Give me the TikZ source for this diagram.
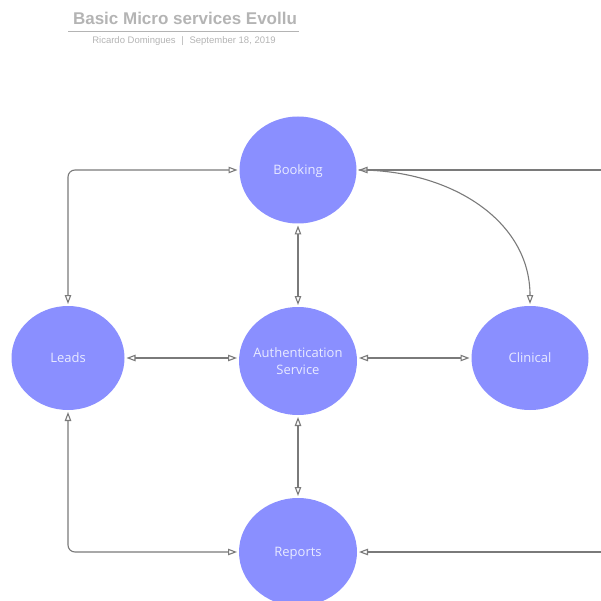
\documentclass[tikz,border=0pt]{standalone}
\usepackage{fontspec}
\setmainfont{Open Sans}
\newfontfamily\titlefont{Liberation Sans}
\usetikzlibrary{arrows.meta,shapes.geometric}
\definecolor{svcfill}{HTML}{8A8FFF}
\definecolor{svctext}{HTML}{E8EAFF}
\definecolor{linkgray}{HTML}{7A7A7A}
\definecolor{headgray}{HTML}{B4B4B4}
\tikzset{
  svc/.style={ellipse, fill=svcfill, draw=none, inner sep=0pt, outer sep=2pt,
    minimum width=117pt, minimum height=107pt, text=svctext,
    font=\fontsize{13}{17}\selectfont, align=center, text depth=0pt},
  link/.style={draw=linkgray, line width=1.1pt,
    arrows={Triangle[open,length=9pt,width=6.5pt,fill=white]-Triangle[open,length=9pt,width=6.5pt,fill=white]}},
  onehead/.style={draw=linkgray, line width=1.1pt,
    arrows={-Triangle[open,length=9pt,width=6.5pt,fill=white]}}
}
\begin{document}
\begin{tikzpicture}[x=1pt,y=-1pt]
  \useasboundingbox (0,0) rectangle (601,601);
  \clip (0,0) rectangle (601,601);

  % header
  \node[font=\titlefont\bfseries\fontsize{17}{20}\selectfont, text=headgray] (title) at (185,18) {Basic Micro services Evollu};
  \draw[headgray, line width=1.3pt] (68,31.5) -- (299,31.5);
  \node[font=\titlefont\fontsize{9.5}{11}\selectfont, text=headgray] (sub) at (184,41) {Ricardo Domingues\hspace{0.6em}|\hspace{0.6em}September 18, 2019};

  % services
  \node[svc] (booking)  at (298,170) {Booking};
  \node[svc, minimum width=113pt, minimum height=104pt] (leads) at (68,358) {Leads};
  \node[svc, inner sep=-16pt, minimum width=118pt, minimum height=108pt] (auth) at (298,361) {Authentication\\Service};
  \node[svc, minimum width=117pt, minimum height=104pt] (clinical) at (530,358) {Clinical};
  \node[svc, minimum width=118pt, minimum height=108pt] (reports) at (298,552) {Reports};

  % free ends at the right edge
  \coordinate (bookingIn) at (605,170);
  \coordinate (reportsIn) at (605,552);

  % connectors
  \draw[link, rounded corners=7pt] (leads.north) |- (booking.west);
  \draw[link, rounded corners=7pt] (leads.south) |- (reports.west);
  \draw[link] (booking.south) -- (auth.north);
  \draw[link] (auth.south) -- (reports.north);
  \draw[link] (leads.east) -- (leads.east -| auth.west);
  \draw[link] (auth.east |- clinical.west) -- (clinical.west);
  \draw[onehead] (bookingIn) -- (booking.east);
  \draw[onehead] (reportsIn) -- (reports.east);
  \draw[onehead] (booking.east) .. controls (450,170) and (530,220) .. (clinical.north);
\end{tikzpicture}
\end{document}
